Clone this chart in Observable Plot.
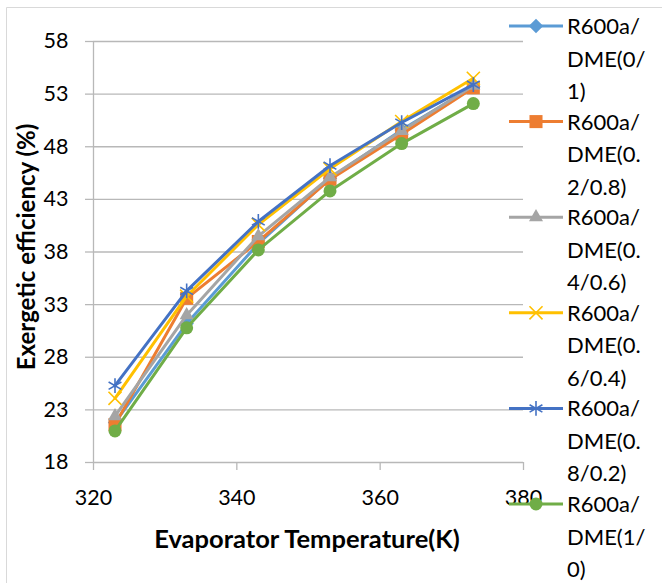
<!DOCTYPE html>
<html><head><meta charset="utf-8">
<script src="https://cdn.jsdelivr.net/npm/d3@7"></script>
<script src="https://cdn.jsdelivr.net/npm/@observablehq/plot@0.6"></script>
<style>body{margin:0;background:#fff;} svg{display:block;}</style>
</head><body><div id="chart"></div>
<script>
const temps = [323, 333, 343, 353, 363, 373];
const seriesNames = ["R600a/DME(0/1)", "R600a/DME(0.2/0.8)", "R600a/DME(0.4/0.6)", "R600a/DME(0.6/0.4)", "R600a/DME(0.8/0.2)", "R600a/DME(1/0)"];
const legendLines = [["R600a/", "DME(0/", "1)"], ["R600a/", "DME(0.", "2/0.8)"], ["R600a/", "DME(0.", "4/0.6)"], ["R600a/", "DME(0.", "6/0.4)"], ["R600a/", "DME(0.", "8/0.2)"], ["R600a/", "DME(1/", "0)"]];
const s0_1   = [21.8, 31.2, 38.8, 45.0, 49.6, 53.7];
const s02_08 = [21.6, 33.6, 39.0, 44.9, 49.2, 53.6];
const s04_06 = [22.4, 32.0, 39.5, 45.1, 49.5, 53.8];
const s06_04 = [24.1, 33.8, 40.6, 45.9, 50.4, 54.5];
const s08_02 = [25.3, 34.3, 40.9, 46.2, 50.3, 53.9];
const s1_0   = [21.0, 30.8, 38.2, 43.8, 48.3, 52.1];
const yTicks = [18, 23, 28, 33, 38, 43, 48, 53, 58];
const xTicks = [320, 340, 360, 380];
const colors = ["#5B9BD5", "#ED7D31", "#A5A5A5", "#FFC000", "#4472C4", "#70AD47"];
const symbols = ["diamond2", "square2", "triangle2", "times", "asterisk", "circle"];
const symbolR = [6.5, 8.3, 6.7, 6, 7, 6.5];

const allValues = [s0_1, s02_08, s04_06, s06_04, s08_02, s1_0];
const data = [];
allValues.forEach((vals, i) => vals.forEach((v, j) => data.push({t: temps[j], v, s: seriesNames[i], i})));

const W = 662, H = 583;
const font = "Lato, 'Open Sans', sans-serif";
const gridColor = "#b8b8b8";
const marks = [
  Plot.ruleY(yTicks, {stroke: gridColor, strokeWidth: 1.3}),
  Plot.ruleX([320], {stroke: gridColor, strokeWidth: 1.3}),
  Plot.axisY({ticks: yTicks, tickSize: 8, tickPadding: 17, stroke: gridColor, strokeWidth: 1.3, fontSize: 21.5, fill: "#000", label: null}),
  Plot.axisX({ticks: xTicks, tickSize: 8, tickPadding: 19, stroke: gridColor, strokeWidth: 1.3, fontSize: 21.5, fill: "#000", label: null, tickFormat: d => String(d)})
];
const filledOf = s => !(s === "times" || s === "asterisk");
seriesNames.forEach((name, i) => {
  const d = data.filter(e => e.i === i);
  marks.push(Plot.line(d, {x: "t", y: "v", stroke: colors[i], strokeWidth: 3}));
  const filled = filledOf(symbols[i]);
  marks.push(Plot.dot(d, {x: "t", y: "v", symbol: symbols[i], r: symbolR[i],
    fill: filled ? colors[i] : "none", stroke: colors[i], strokeWidth: filled ? 0 : 1.6}));
});

const chart = Plot.plot({
  width: W, height: H,
  marginLeft: 93, marginRight: 139, marginTop: 41, marginBottom: 121,
  style: {fontFamily: font, background: "#fff", overflow: "visible"},
  x: {domain: [320, 380]},
  y: {domain: [18, 58]},
  marks
});

const svg = d3.select(chart);
svg.append("path").attr("d", `M6.5,${H} L6.5,7.5 L${W},7.5`).attr("fill", "none").attr("stroke", "#d9d9d9").attr("stroke-width", 1);
svg.append("text").attr("x", 307).attr("y", 548).attr("text-anchor", "middle")
  .attr("font-family", font).attr("font-size", 25.5).attr("font-weight", "bold").attr("fill", "#000").text("Evaporator Temperature(K)");
svg.append("text").attr("transform", "translate(35,247) rotate(-90)").attr("text-anchor", "middle")
  .attr("font-family", font).attr("font-size", 24).attr("font-weight", "bold").attr("fill", "#000").text("Exergetic efficiency (%)");
const d3sym = {diamond2: d3.symbolDiamond2, square2: d3.symbolSquare2, triangle2: d3.symbolTriangle2, times: d3.symbolTimes, asterisk: d3.symbolAsterisk, circle: d3.symbolCircle};
const lg = svg.append("g");
seriesNames.forEach((name, i) => {
  const y0 = 26 + i * 95.6;
  lg.append("line").attr("x1", 509).attr("x2", 563).attr("y1", y0).attr("y2", y0).attr("stroke", colors[i]).attr("stroke-width", 3);
  const filled = filledOf(symbols[i]);
  lg.append("path").attr("transform", `translate(536,${y0})`)
    .attr("d", d3.symbol(d3sym[symbols[i]], Math.PI * symbolR[i] * symbolR[i])())
    .attr("fill", filled ? colors[i] : "none").attr("stroke", colors[i]).attr("stroke-width", filled ? 0 : 1.6);
  legendLines[i].forEach((ln, k) => {
    lg.append("text").attr("x", 567).attr("y", y0 + 8 + k * 32.5).attr("text-anchor", "start")
      .attr("font-family", font).attr("font-size", 22).attr("fill", "#000").text(ln);
  });
});
document.getElementById("chart").appendChild(chart);
</script></body></html>
